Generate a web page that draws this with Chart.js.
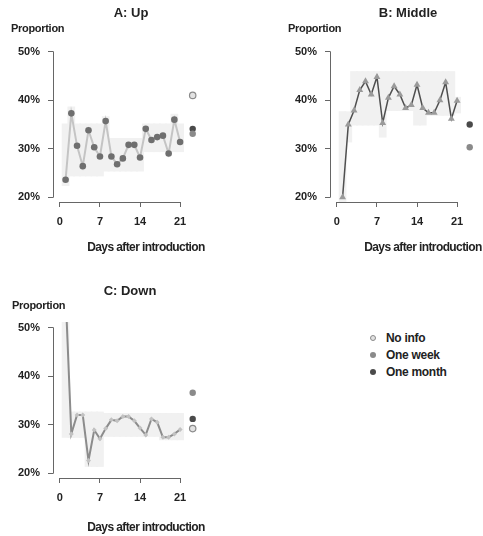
<!DOCTYPE html>
<html>
<head>
<meta charset="utf-8">
<script src="https://cdn.jsdelivr.net/npm/chart.js@4/dist/chart.umd.min.js"></script>
<style>
  html, body { margin:0; padding:0; background:#fff; }
  body { width:483px; height:536px; overflow:hidden; position:relative; font-family:"Liberation Sans", Arial, sans-serif; color:#222; }
  canvas { position:absolute; }
  .t { position:absolute; font-weight:bold; white-space:nowrap; line-height:1; }
  .title { font-size:13px; transform:translate(-50%,-50%); }
  .ylab { font-size:11px; transform:translateY(-50%); letter-spacing:-0.3px; }
  .xlab { font-size:12px; transform:translate(-50%,-50%); letter-spacing:-0.6px; }
  .leg { position:absolute; font-size:12px; font-weight:bold; letter-spacing:-0.3px; line-height:1; transform:translateY(-50%); }
  .dot { position:absolute; width:6px; height:6px; border-radius:50%; transform:translate(-50%,-50%); box-sizing:border-box; }
</style>
</head>
<body>
<canvas id="cA" width="241" height="268" style="left:0;top:0"></canvas>
<canvas id="cB" width="241" height="268" style="left:277px;top:0"></canvas>
<canvas id="cC" width="241" height="268" style="left:0;top:276px"></canvas>

<div class="t title" style="left:131px;top:12px">A: Up</div>
<div class="t title" style="left:408px;top:12px">B: Middle</div>
<div class="t title" style="left:130px;top:290px">C: Down</div>

<div class="t ylab" style="left:11px;top:28px">Proportion</div>
<div class="t ylab" style="left:288px;top:28px">Proportion</div>
<div class="t ylab" style="left:12px;top:305px">Proportion</div>

<div class="t xlab" style="left:146px;top:247px">Days after introduction</div>
<div class="t xlab" style="left:423px;top:247px">Days after introduction</div>
<div class="t xlab" style="left:146px;top:527px">Days after introduction</div>

<div class="dot" style="left:373px;top:338px;background:#e2e2e2;border:1px solid #8a8a8a"></div>
<div class="dot" style="left:373px;top:355px;background:#8a8a8a"></div>
<div class="dot" style="left:373px;top:372px;background:#4a4a4a"></div>
<div class="leg" style="left:386px;top:338px">No info</div>
<div class="leg" style="left:386px;top:355px">One week</div>
<div class="leg" style="left:386px;top:372px">One month</div>

<script>
// ---------- data ----------
const days = [1,2,3,4,5,6,7,8,9,10,11,12,13,14,15,16,17,18,19,20,21];
const xTicks = [0, 7, 14, 21];
const yTicks = [20, 30, 40, 50];

const upValues     = [23.6,37.3,30.6,26.4,33.8,30.3,28.4,35.7,28.4,26.8,28.0,30.8,30.8,28.2,34.1,31.8,32.4,32.7,29.0,36.0,31.4];
const upLow        = [22.5,24.5,24.5,24.5,24.5,24.5,24.5,25.5,25.5,25.5,25.5,25.5,25.5,25.5,29.5,29.5,29.5,29.5,29.5,29.5,29.5];
const upHigh       = [35.0,38.5,35.0,35.0,35.0,35.0,35.0,36.5,32.0,32.0,32.0,32.0,32.0,32.0,35.0,35.0,35.0,35.0,35.0,37.0,35.0];

const middleValues = [20.0,35.0,37.9,42.1,43.9,41.2,44.8,35.3,40.5,42.9,41.2,38.4,39.0,43.2,38.4,37.4,37.4,40.0,43.7,36.2,39.9];
const middleLow    = [19.0,31.5,35.0,35.0,35.0,35.0,35.0,32.5,38.0,38.0,38.0,38.0,38.0,35.0,35.0,37.0,37.0,37.0,37.0,37.0,37.5];
const middleHigh   = [37.5,37.5,45.8,45.8,45.8,45.8,45.8,45.8,45.8,45.8,45.8,45.8,45.8,45.8,45.8,45.8,45.8,45.8,45.8,45.8,40.5];

const downValues   = [57.0,28.1,32.0,32.0,22.6,28.9,27.1,29.2,31.0,30.8,31.7,31.7,30.8,29.3,27.9,31.2,30.5,27.4,27.4,28.1,29.0];
const downLow      = [27.5,27.5,27.5,27.5,21.5,21.5,21.5,27.7,27.7,27.7,27.7,27.7,27.7,27.7,27.7,27.7,27.7,27.0,27.0,27.0,27.0];
const downHigh     = [52.0,32.5,32.5,32.5,32.5,32.5,32.5,32.2,32.2,32.2,32.2,32.2,32.2,32.2,32.2,32.2,32.2,32.2,32.2,32.2,32.2];

// reference points (panel order: Up, Middle, Down)
const extraDay     = 23.2;
const extraNoInfo  = [41.0, null, 29.2];
const extraWeek    = [33.1, 30.3, 36.6];
const extraMonth   = [34.1, 35.0, 31.2];

// ---------- helpers ----------
const FONT = { family: '"Liberation Sans", Arial, sans-serif', size: 11, weight: 'bold' };
const AXIS = '#666';

const axisLines = {
  id: 'axisLines',
  afterDraw(chart) {
    const { ctx, chartArea, scales: { x, y } } = chart;
    ctx.save();
    ctx.strokeStyle = AXIS;
    ctx.lineWidth = 1;
    ctx.beginPath();
    const lx = Math.round(chartArea.left) + 0.5;
    ctx.moveTo(lx, y.getPixelForValue(yTicks[0]) + 0.5);
    ctx.lineTo(lx, y.getPixelForValue(yTicks[yTicks.length - 1]) - 0.5);
    const by = Math.round(chartArea.bottom) + 0.5;
    ctx.moveTo(x.getPixelForValue(xTicks[0]) - 0.5, by);
    ctx.lineTo(x.getPixelForValue(xTicks[xTicks.length - 1]) + 0.5, by);
    ctx.stroke();
    ctx.restore();
  }
};

function pts(values) { return days.map((d, i) => ({ x: d, y: values[i] })); }
function band(lo, hi) { return days.map((d, i) => ({ x: d, y: [lo[i], hi[i]] })); }

function makePanel(id, idx, values, lo, hi, lineStyle) {
  const datasets = [
    {
      type: 'bar', data: band(lo, hi), backgroundColor: '#f1f1f1',
      borderWidth: 0, inflateAmount: 1, barPercentage: 1, categoryPercentage: 1, order: 5
    },
    Object.assign({ type: 'line', data: pts(values), tension: 0, order: 2 }, lineStyle)
  ];
  const extras = [
    [extraNoInfo[idx], '#e2e2e2', '#8a8a8a', 1.2],
    [extraWeek[idx],   '#8a8a8a', '#8a8a8a', 0],
    [extraMonth[idx],  '#4a4a4a', '#4a4a4a', 0]
  ];
  extras.forEach(([v, fill, border, bw]) => {
    if (v === null) return;
    datasets.push({
      type: 'line', showLine: false, data: [{ x: extraDay, y: v }],
      pointRadius: 3.2, pointBackgroundColor: fill, pointBorderColor: border,
      pointBorderWidth: bw, order: 1
    });
  });

  new Chart(document.getElementById(id), {
    type: 'line',
    data: { datasets },
    options: {
      responsive: false, animation: false, events: [],
      layout: { padding: { top: 46, right: 38, bottom: 0, left: 0 } },
      plugins: { legend: { display: false }, tooltip: { enabled: false } },
      scales: {
        x: {
          type: 'linear', min: -1.2, max: 25, offset: false,
          afterBuildTicks: s => { s.ticks = xTicks.map(v => ({ value: v })); },
          afterFit: s => { s.height = 66; },
          grid: { drawOnChartArea: false, drawTicks: true, tickLength: 5, color: AXIS, offset: false },
          border: { display: false },
          ticks: { font: FONT, color: '#222', padding: 8, maxRotation: 0, autoSkip: false, callback: v => String(v) }
        },
        y: {
          type: 'linear', min: 19, max: 51.2,
          afterBuildTicks: s => { s.ticks = yTicks.map(v => ({ value: v })); },
          afterFit: s => { s.width = 53; },
          grid: { drawOnChartArea: false, drawTicks: true, tickLength: 5, color: AXIS },
          border: { display: false },
          ticks: { font: FONT, color: '#222', padding: 8, autoSkip: false, callback: v => v + '%' }
        }
      }
    },
    plugins: [axisLines]
  });
}

makePanel('cA', 0, upValues, upLow, upHigh, {
  borderColor: '#c4c4c4', borderWidth: 2,
  pointRadius: 3.3, pointBackgroundColor: '#6f6f6f', pointBorderWidth: 0
});
makePanel('cB', 1, middleValues, middleLow, middleHigh, {
  borderColor: '#4f4f4f', borderWidth: 1.5,
  pointStyle: 'triangle', pointRadius: 4, pointBackgroundColor: '#9a9a9a', pointBorderWidth: 0
});
makePanel('cC', 2, downValues, downLow, downHigh, {
  borderColor: '#8c8c8c', borderWidth: 2,
  pointStyle: 'rectRot', pointRadius: 2.5, pointBackgroundColor: '#c2c2c2', pointBorderWidth: 0
});
</script>
</body>
</html>
